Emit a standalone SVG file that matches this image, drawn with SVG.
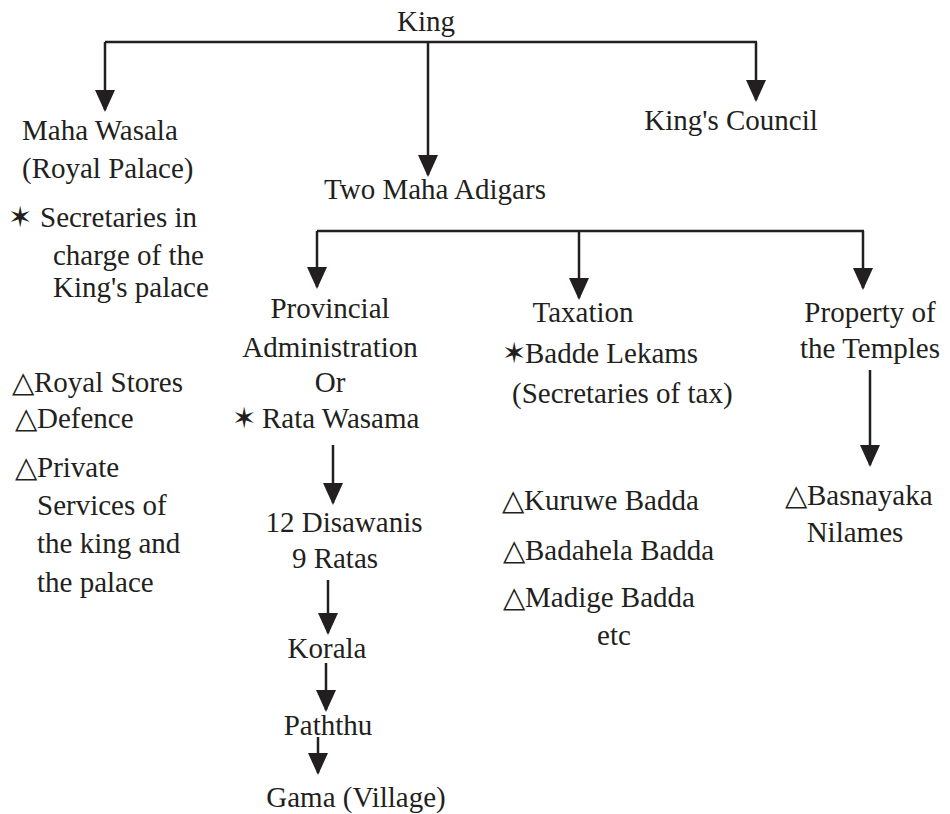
<svg xmlns="http://www.w3.org/2000/svg" width="950" height="814" viewBox="0 0 950 814">
<style>
.t{font-family:'Liberation Serif','Times New Roman',serif;font-size:29px;fill:#231f20}
.m{text-anchor:middle}
.c{stroke:#231f20;stroke-width:2.5;fill:none}
</style>
<defs>
<marker id="ah" markerUnits="userSpaceOnUse" markerWidth="22" markerHeight="20" refX="20" refY="10" orient="auto" viewBox="0 0 22 20">
<path d="M0,0 L22,10 L0,20 Z" fill="#231f20"/>
</marker>
</defs>
<rect width="950" height="814" fill="#fff"/>
<g id="connectors">
<path class="c" d="M105,42 H757"/>
<path class="c" d="M428,42 V175" marker-end="url(#ah)"/>
<path class="c" d="M105,42 V110" marker-end="url(#ah)"/>
<path class="c" d="M756,42 V100" marker-end="url(#ah)"/>
<path class="c" d="M317,231 H864"/>
<path class="c" d="M317,231 V287" marker-end="url(#ah)"/>
<path class="c" d="M579,231 V298" marker-end="url(#ah)"/>
<path class="c" d="M863,231 V288" marker-end="url(#ah)"/>
<path class="c" d="M870,370 V465" marker-end="url(#ah)"/>
<path class="c" d="M333,445 V503" marker-end="url(#ah)"/>
<path class="c" d="M328,580 V633" marker-end="url(#ah)"/>
<path class="c" d="M326,663 V710" marker-end="url(#ah)"/>
<path class="c" d="M318,737 V773" marker-end="url(#ah)"/>
</g>
<g id="king"><text class="t m" x="426" y="31">King</text></g>
<g id="maha-wasala">
<text class="t" x="22" y="140">Maha Wasala</text>
<text class="t" x="22" y="178">(Royal Palace)</text>
</g>
<g id="kings-council"><text class="t m" x="731" y="130">King's Council</text></g>
<g id="two-maha-adigars"><text class="t m" x="435" y="199">Two Maha Adigars</text></g>
<g id="secretaries">
<text class="t" x="8" y="227">✶</text>
<text class="t" x="40" y="227">Secretaries in</text>
<text class="t" x="53" y="265">charge of the</text>
<text class="t" x="53" y="297">King's palace</text>
</g>
<g id="palace-duties">
<text class="t" x="12" y="392">△Royal Stores</text>
<text class="t" x="15" y="428">△Defence</text>
<text class="t" x="15" y="477">△Private</text>
<text class="t" x="37" y="515">Services of</text>
<text class="t" x="37" y="553">the king and</text>
<text class="t" x="37" y="592">the palace</text>
</g>
<g id="provincial">
<text class="t m" x="330" y="318">Provincial</text>
<text class="t m" x="330" y="357">Administration</text>
<text class="t m" x="330" y="392">Or</text>
<text class="t" x="232" y="428">✶</text>
<text class="t" x="262" y="428">Rata Wasama</text>
</g>
<g id="disawanis">
<text class="t m" x="344" y="532">12 Disawanis</text>
<text class="t m" x="335" y="568">9 Ratas</text>
</g>
<g id="korala"><text class="t m" x="327" y="658">Korala</text></g>
<g id="paththu"><text class="t m" x="328" y="735">Paththu</text></g>
<g id="gama"><text class="t m" x="356" y="807">Gama (Village)</text></g>
<g id="taxation">
<text class="t m" x="583" y="322">Taxation</text>
<text class="t" x="502" y="363">✶</text>
<text class="t" x="525" y="363">Badde Lekams</text>
<text class="t" x="512" y="403">(Secretaries of  tax)</text>
</g>
<g id="badda">
<text class="t" x="502" y="510">△Kuruwe Badda</text>
<text class="t" x="503" y="560">△Badahela Badda</text>
<text class="t" x="503" y="607">△Madige Badda</text>
<text class="t m" x="614" y="645">etc</text>
</g>
<g id="temples">
<text class="t m" x="870" y="322">Property of</text>
<text class="t m" x="870" y="358">the Temples</text>
</g>
<g id="basnayaka">
<text class="t" x="785" y="505">△Basnayaka</text>
<text class="t m" x="855" y="542">Nilames</text>
</g>
</svg>
